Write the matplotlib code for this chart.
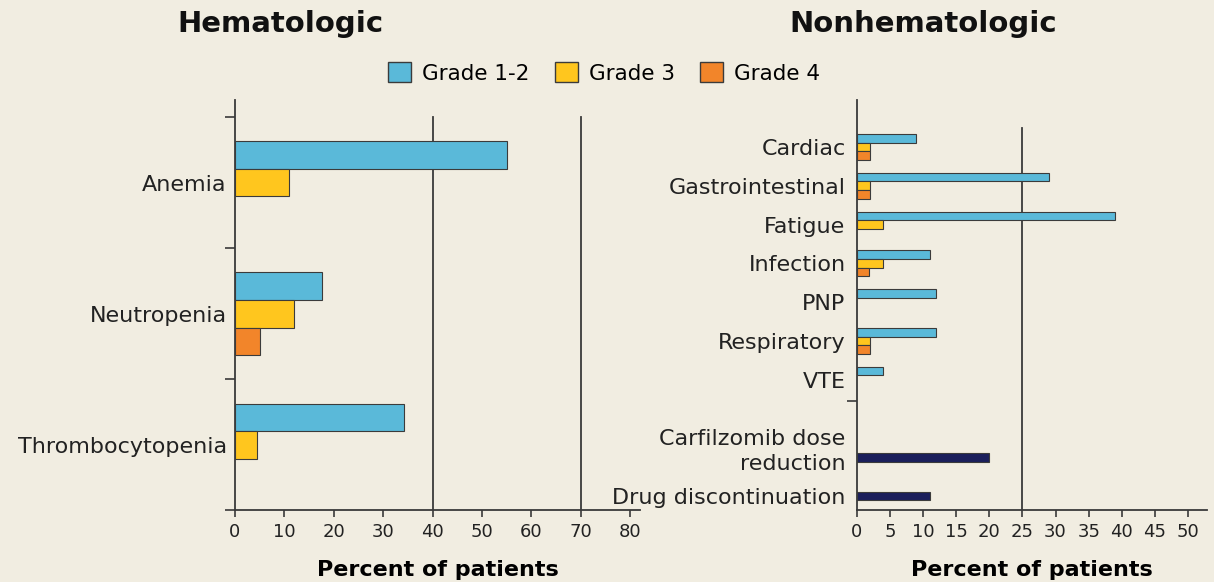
import matplotlib
matplotlib.use("Agg")
import matplotlib.pyplot as plt
import matplotlib.transforms as mtransforms
from matplotlib.patches import Patch

# ---------------- data ----------------
heme_categories = ["Anemia", "Neutropenia", "Thrombocytopenia"]
heme_grade12 = [55, 17.7, 34.2]
heme_grade3 = [11, 12, 4.5]
heme_grade4 = [0, 5, 0]

nonheme_categories = ["Cardiac", "Gastrointestinal", "Fatigue", "Infection",
                      "PNP", "Respiratory", "VTE"]
nonheme_grade12 = [9, 29, 39, 11, 12, 12, 4]
nonheme_grade3 = [2, 2, 4, 4, 0, 2, 0]
nonheme_grade4 = [2, 2, 0, 1.8, 0, 2, 0]

outcome_categories = ["Carfilzomib dose\nreduction", "Drug discontinuation"]
outcome_values = [20, 11]

legend_labels = ["Grade 1-2", "Grade 3", "Grade 4"]
heme_xticks = list(range(0, 81, 10))
nonheme_xticks = list(range(0, 51, 5))

# ---------------- style ----------------
BG = "#F1EDE1"
C_BLUE = "#5AB9D9"
C_YEL = "#FFC61E"
C_ORG = "#F2852A"
C_NAVY = "#1B1F5B"
EDGE = "#3b3b3b"
AX = "#3a3a3a"
plt.rcParams['font.family'] = ['DejaVu Sans']

fig = plt.figure(figsize=(12.14, 5.82), dpi=100, facecolor=BG)

def style_axes(ax):
    ax.set_facecolor(BG)
    for s in ("top", "right"):
        ax.spines[s].set_visible(False)
    for s in ("left", "bottom"):
        ax.spines[s].set_color(AX)
        ax.spines[s].set_linewidth(1.3)
    ax.tick_params(axis="x", direction="out", length=5, width=1.2, color=AX,
                   labelsize=13, pad=4, labelcolor="#222222")

# ---------------- left: hematologic ----------------
axL = fig.add_axes([0.19357, 0.12286, 0.33361, 0.70533])
style_axes(axL)
h = 0.21
yL = list(range(len(heme_categories)))
for i, y in enumerate(yL):
    for off, vals, col in ((-h, heme_grade12, C_BLUE), (0, heme_grade3, C_YEL), (h, heme_grade4, C_ORG)):
        if vals[i] > 0:
            axL.barh(y + off, vals[i], height=h, color=col, edgecolor=EDGE,
                     linewidth=0.8, zorder=3)
for xv in (40, 70):
    axL.plot([xv, xv], [-0.5, 2.5], color=AX, lw=1.3, zorder=2)
axL.set_xlim(0, 82)
axL.set_ylim(2.5, -0.63)
axL.set_xticks(heme_xticks)
axL.set_yticks([-0.5, 0.5, 1.5, 2.5])
axL.set_yticklabels([])
axL.tick_params(axis="y", which="major", direction="out", length=7, width=1.2, color=AX)
axL.set_yticks(yL, minor=True)
axL.set_yticklabels(heme_categories, minor=True, fontsize=16, color="#222222")
axL.tick_params(axis="y", which="minor", length=0, pad=6)
axL.set_xlabel("Percent of patients", fontsize=16, fontweight="bold", labelpad=14)

# ---------------- right: nonhematologic ----------------
axR = fig.add_axes([0.70568, 0.12286, 0.28830, 0.70533])
style_axes(axR)
hr = 0.222
yR = list(range(len(nonheme_categories)))
for i, y in enumerate(yR):
    for off, vals, col in ((-hr, nonheme_grade12, C_BLUE), (0, nonheme_grade3, C_YEL), (hr, nonheme_grade4, C_ORG)):
        if vals[i] > 0:
            axR.barh(y + off, vals[i], height=hr, color=col, edgecolor=EDGE,
                     linewidth=0.8, zorder=3)
yO = [len(nonheme_categories) + 1, len(nonheme_categories) + 2]
axR.barh(yO, outcome_values, height=hr, color=C_NAVY, edgecolor=EDGE,
         linewidth=0.8, zorder=3)
axR.plot([25, 25], [-0.5, 9.37], color=AX, lw=1.3, zorder=2)
axR.set_xlim(0, 52.8)
axR.set_ylim(9.37, -1.21)
axR.set_xticks(nonheme_xticks)
axR.set_yticks([6.55])
axR.set_yticklabels([])
axR.tick_params(axis="y", which="major", direction="out", length=7, width=1.2, color=AX)
axR.set_yticks(yR + yO, minor=True)
axR.set_yticklabels(nonheme_categories + outcome_categories, minor=True,
                    fontsize=16, color="#222222", linespacing=1.3)
axR.tick_params(axis="y", which="minor", length=0, pad=8)
lbls = axR.get_yticklabels(minor=True)
shift = mtransforms.ScaledTranslation(0, 10 / 100, fig.dpi_scale_trans)
lbls[len(nonheme_categories)].set_transform(lbls[len(nonheme_categories)].get_transform() + shift)
axR.set_xlabel("Percent of patients", fontsize=16, fontweight="bold", labelpad=14)

# ---------------- titles ----------------
fig.text(280 / 1214, 1 - 24 / 582, "Hematologic", fontsize=21, fontweight="bold",
         ha="center", va="center", color="#111111")
fig.text(923 / 1214, 1 - 24 / 582, "Nonhematologic", fontsize=21, fontweight="bold",
         ha="center", va="center", color="#111111")

# ---------------- legend ----------------
handles = [Patch(facecolor=c, edgecolor=EDGE, linewidth=1.0) for c in (C_BLUE, C_YEL, C_ORG)]
fig.legend(handles, legend_labels, loc="center", bbox_to_anchor=(604 / 1214, 1 - 73 / 582),
           ncol=3, frameon=False, fontsize=15.5, handlelength=1.07, handleheight=1.0,
           handletextpad=0.5, columnspacing=1.2, borderpad=0)

fig.savefig("out.png", dpi=100, facecolor=BG)
